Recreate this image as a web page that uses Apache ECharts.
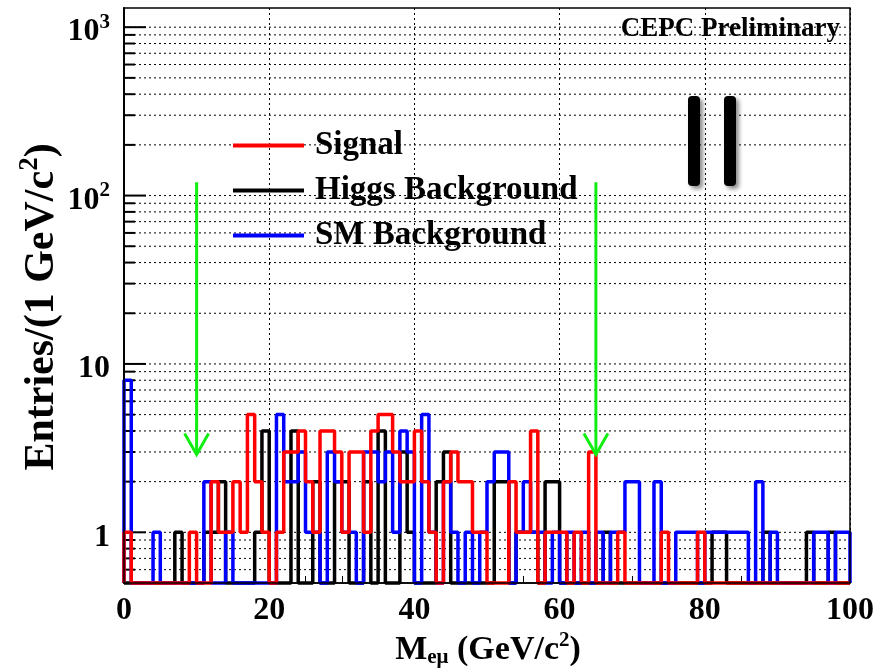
<!DOCTYPE html>
<html>
<head>
<meta charset="utf-8">
<script src="https://cdn.jsdelivr.net/npm/echarts/dist/echarts.min.js"></script>
<style>
html,body{margin:0;padding:0;background:#fff;}
#chart{width:879px;height:668px;}
</style>
</head>
<body>
<div id="chart"></div>
<script>
// ---------------- data (entries per 1 GeV bin, bins 0..99) ----------------
const binLow = Array.from({length: 100}, (_, i) => i); // lower edge of each 1 GeV bin
const signal = [
  1,0,0,0,0,0,0,0,0,1,
  0,0,2,1,1,2,1,5,2,1,
  0,1,3,3,4,2,1,4,4,3,
  1,3,3,1,4,5,5,3,2,2,
  4,2,1,0,2,3,2,2,1,1,
  0,0,0,2,1,1,4,0,1,1,
  1,0,1,0,3,0,0,0,1,0,
  0,0,0,0,1,0,0,0,0,1,
  0,0,0,0,0,0,0,0,0,0,
  0,0,0,0,0,0,0,0,0,0
];
const higgsBkg = [
  0,0,0,0,0,0,0,1,0,0,
  0,1,1,2,0,0,0,0,1,4,
  0,0,0,4,0,0,2,0,0,2,
  2,0,0,2,0,4,0,0,3,1,
  0,0,0,2,3,0,0,0,0,0,
  0,2,2,0,1,1,1,0,2,2,
  0,0,0,0,0,0,1,0,0,0,
  0,0,0,0,0,0,0,0,0,0,
  0,1,1,0,0,0,0,0,1,0,
  0,0,0,0,1,0,0,1,0,0
];
const smBkg = [
  8,0,0,0,1,0,0,0,0,0,
  0,2,0,0,1,0,0,0,0,0,
  0,5,2,2,3,1,1,0,3,2,
  1,1,0,3,3,2,3,1,4,3,
  0,5,1,0,2,1,0,1,0,1,
  2,3,3,0,1,2,1,1,0,1,
  0,1,0,1,0,1,0,1,1,2,
  2,0,0,2,0,0,1,1,1,0,
  1,1,1,1,1,1,0,2,0,1,
  0,0,0,0,0,1,1,0,1,1
];
const seriesNames = ['Signal', 'Higgs Background', 'SM Background'];
const yTickValues = [1, 10, 100, 1000];
const yTickLabels = ['1', '10', '10^2', '10^3'];
const xTickLabels = ['0', '20', '40', '60', '80', '100'];
const cutPositions = [10, 65];     // selection cut arrows (GeV)
const arrowTopValue = 120;
const arrowTipValue = 2.9;
const yMin = 0.5, yMax = 1300;

// -------------------------------------------------------------------------
const gridLevels = [];
[0.1, 1, 10, 100].forEach(d => { for (let k = 1; k <= 9; k++) { const v = +(k * d).toPrecision(3); if (v > yMin && v < yMax) gridLevels.push(v); } });
gridLevels.push(1000);

function histData(counts) {
  const pts = [[binLow[0], yMin]];
  counts.forEach((c, i) => pts.push([binLow[i], c > 0 ? c : yMin]));
  const last = counts[counts.length - 1];
  pts.push([binLow[counts.length - 1] + 1, last > 0 ? last : yMin]);
  pts.push([binLow[counts.length - 1] + 1, yMin]);
  return pts;
}

const serif = "'Liberation Serif','DejaVu Serif',serif";
const chart = echarts.init(document.getElementById('chart'), null, {renderer: 'canvas'});

const histStyle = (color) => ({
  type: 'line', step: 'end', showSymbol: false, symbol: 'none', clip: false,
  lineStyle: {color: color, width: 3.5}, itemStyle: {color: color}, silent: true,
  animation: false
});

chart.setOption({
  animation: false,
  grid: {left: 124, right: 29, top: 8, bottom: 85, containLabel: false, outerBoundsMode: 'none'},
  legend: {
    data: seriesNames, orient: 'vertical', left: 228, top: 124, itemGap: 12,
    icon: 'rect', itemWidth: 71, itemHeight: 4,
    textStyle: {fontFamily: serif, fontWeight: 'bold', fontSize: 33, color: '#000', padding: [0, 0, 0, 6]},
    selectedMode: false
  },
  xAxis: {
    type: 'value', min: 0, max: 100, interval: 20,
    axisLine: {lineStyle: {color: '#000', width: 1.5}},
    axisTick: {inside: true, length: 16, lineStyle: {color: '#000', width: 1.5}},
    minorTick: {show: true, splitNumber: 4, length: 7, lineStyle: {color: '#000', width: 1}},
    axisLabel: {fontFamily: serif, fontWeight: 'bold', fontSize: 32, color: '#000', margin: 12,
      formatter: (v) => xTickLabels[Math.round(v / 20)] ?? ''},
    splitLine: {show: true, lineStyle: {color: '#000', width: 1, type: [2, 3]}}
  },
  yAxis: {
    type: 'log', logBase: 10, min: yMin, max: yMax,
    axisLine: {lineStyle: {color: '#000', width: 2}},
    axisTick: {show: false},
    splitLine: {show: false},
    axisLabel: {
      showMinLabel: false, showMaxLabel: false, margin: 14, padding: [10, 0, 0, 0],
      formatter: (v) => {
        const i = yTickValues.findIndex(t => Math.abs(t - v) / t < 1e-6);
        if (i < 0) return '';
        const lab = yTickLabels[i];
        if (lab.includes('^')) { const [b, e] = lab.split('^'); return '{b|' + b + '}{s|' + e + '}'; }
        return '{b|' + lab + '}';
      },
      rich: {
        b: {fontFamily: serif, fontWeight: 'bold', fontSize: 32, color: '#000'},
        s: {fontFamily: serif, fontWeight: 'bold', fontSize: 21, color: '#000', padding: [0, 0, 20, 0]}
      }
    }
  },
  series: [
    {
      name: 'grid', type: 'custom', silent: true, z: 1, clip: false,
      data: gridLevels.map(v => [0, v]), encode: {x: 0, y: 1},
      renderItem: (params, api) => {
        const v = api.value(1);
        const p = api.coord([0, v]);
        const cs = params.coordSys;
        const major = yTickValues.some(t => Math.abs(t - v) / t < 1e-6);
        return {type: 'group', children: [
          {type: 'line', shape: {x1: cs.x, y1: p[1], x2: cs.x + cs.width, y2: p[1]},
            style: {stroke: '#000', lineWidth: 1, lineDash: [2, 3]}},
          {type: 'line', shape: {x1: cs.x, y1: p[1], x2: cs.x + (major ? 22 : 11), y2: p[1]},
            style: {stroke: '#000', lineWidth: 2}}
        ]};
      }
    },
    Object.assign({name: 'Higgs Background', data: histData(higgsBkg), z: 3}, histStyle('#000000')),
    Object.assign({name: 'SM Background', data: histData(smBkg), z: 4}, histStyle('#0000ff')),
    Object.assign({name: 'Signal', data: histData(signal), z: 5}, histStyle('#ff0000')),
    {
      name: 'cuts', type: 'custom', silent: true, z: 6, clip: false,
      data: cutPositions.map(x => [x, arrowTipValue]), encode: {x: 0, y: 1},
      renderItem: (params, api) => {
        const x = api.value(0);
        const top = api.coord([x, arrowTopValue]);
        const tip = api.coord([x, api.value(1)]);
        const st = {stroke: '#11ee11', lineWidth: 3};
        return {type: 'group', children: [
          {type: 'line', shape: {x1: top[0], y1: top[1], x2: tip[0], y2: tip[1]}, style: st},
          {type: 'polyline', shape: {points: [[tip[0] - 12, tip[1] - 21], [tip[0], tip[1]], [tip[0] + 12, tip[1] - 21]]}, style: Object.assign({fill: 'none'}, st)}
        ]};
      }
    }
  ],
  graphic: [
    {type: 'rect', shape: {x: 124, y: 8, width: 726, height: 575}, style: {fill: 'none', stroke: '#000', lineWidth: 1.5}, z: 10, silent: true},
    {type: 'text', right: 879 - 840, top: 16, z: 10,
      style: {text: 'CEPC Preliminary', font: 'bold 27px ' + serif, fill: '#000'}},
    {type: 'rect', shape: {x: 688, y: 96, width: 12, height: 90, r: 4}, style: {fill: '#000', shadowBlur: 4, shadowOffsetX: 3, shadowOffsetY: 3, shadowColor: 'rgba(0,0,0,0.45)'}, z: 10},
    {type: 'rect', shape: {x: 724, y: 96, width: 12, height: 90, r: 4}, style: {fill: '#000', shadowBlur: 4, shadowOffsetX: 3, shadowOffsetY: 3, shadowColor: 'rgba(0,0,0,0.45)'}, z: 10},
    {type: 'text', x: 488, y: 650, z: 10,
      style: {text: '{m|M}{sub|eμ}{m| (GeV/c}{sup|2}{m|)}', textAlign: 'center', textVerticalAlign: 'middle',
        rich: {
          m: {fontFamily: serif, fontWeight: 'bold', fontSize: 34, fill: '#000'},
          sub: {fontFamily: serif, fontWeight: 'bold', fontSize: 21, fill: '#000', padding: [16, 0, 0, 0]},
          sup: {fontFamily: serif, fontWeight: 'bold', fontSize: 21, fill: '#000', padding: [0, 0, 18, 0]}
        }}},
    {type: 'text', x: 42, y: 307, rotation: Math.PI / 2, z: 10,
      style: {text: '{m|Entries/(1 GeV/c}{sup|2}{m|)}', textAlign: 'center', textVerticalAlign: 'middle',
        rich: {
          m: {fontFamily: serif, fontWeight: 'bold', fontSize: 42, fill: '#000'},
          sup: {fontFamily: serif, fontWeight: 'bold', fontSize: 27, fill: '#000', padding: [0, 0, 24, 0]}
        }}}
  ]
});
</script>
</body>
</html>
